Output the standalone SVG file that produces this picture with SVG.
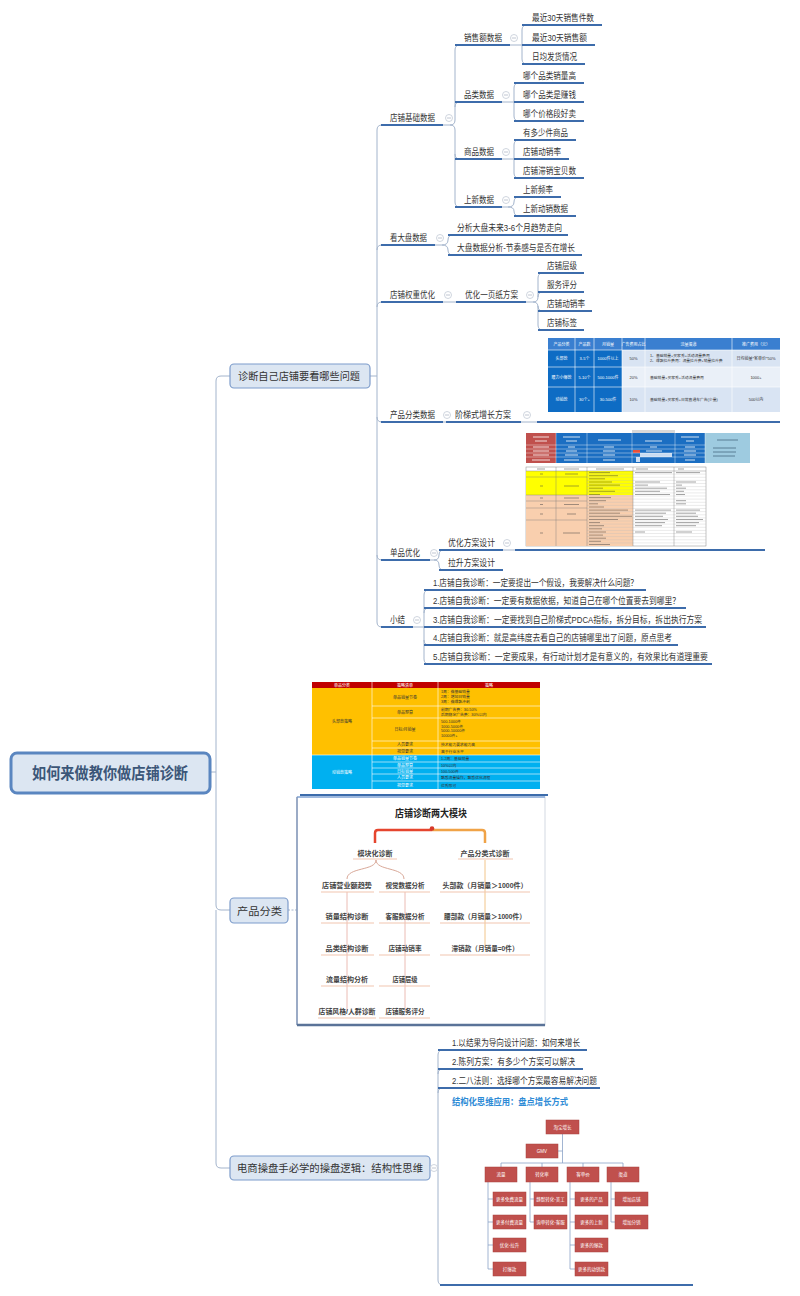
<svg xmlns="http://www.w3.org/2000/svg" width="800" height="1296" viewBox="0 0 800 1296">
<defs>
<style>
.t{font-family:"Liberation Sans","Noto Sans CJK SC",sans-serif;font-size:9px;fill:#333}
.b{font-family:"Liberation Sans","Noto Sans CJK SC",sans-serif;font-size:10.5px;fill:#333}
.ul{stroke:#3d6cab;stroke-width:2;fill:none}
.cn{stroke:#a3b4cc;stroke-width:1;fill:none}
.ci{fill:#fff;stroke:#c3cad6;stroke-width:0.8}
.cm{stroke:#b0b8c6;stroke-width:0.8}
.box{fill:#dce6f2;stroke:#7d9ccb;stroke-width:1.2}
.tw{font-family:"Liberation Sans","Noto Sans CJK SC",sans-serif;font-size:4px;fill:#fff;text-anchor:middle}
.td{font-family:"Liberation Sans","Noto Sans CJK SC",sans-serif;font-size:4px;fill:#333;text-anchor:middle}
.tl{font-family:"Liberation Sans","Noto Sans CJK SC",sans-serif;font-size:3.8px;fill:#333}
.ob{fill:#c0504d;stroke:#a8423f;stroke-width:0.5}
.ot{font-family:"Liberation Sans","Noto Sans CJK SC",sans-serif;font-size:4.5px;fill:#fff;text-anchor:middle}
.oc{stroke:#8aa2c6;stroke-width:0.8;fill:none}
.mt{font-family:"Liberation Sans","Noto Sans CJK SC",sans-serif;font-size:7px;font-weight:bold;fill:#444;text-anchor:middle}
.mu{stroke:#f2c6b0;stroke-width:1.2;fill:none}
.wl{stroke:#fff;stroke-width:0.6;fill:none}
</style>
<g id="col"><circle class="ci" r="3.5"/><line class="cm" x1="-2" y1="0" x2="2" y2="0"/></g>
</defs>
<rect x="0" y="0" width="800" height="1296" fill="#fff"/>

<g id="connectors">
<path class="cn" d="M 210 772 H 216 M 216 772 V 381 Q 216 376 221 376 H 230 M 216 772 V 905 Q 216 910 221 910 H 230 M 216 910 V 1163 Q 216 1168 221 1168 H 230"/>
<path class="cn" d="M 370 376 H 377 M 377 376 V 130 Q 377 125 382 125 M 377 250 Q 377 245 382 245 M 377 307 Q 377 302 382 302 M 377 376 V 622 Q 377 627 382 627 M 377 417 Q 377 422 382 422 M 377 555 Q 377 560 382 560"/>
<path class="cn" d="M 443 125 H 450 Q 455 125 455 120 V 50 Q 455 45 460 45 M 455 107 Q 455 102 460 102 M 450 125 Q 455 125 455 130 V 202 Q 455 207 460 207 M 455 154 Q 455 159 460 159"/>
<path class="cn" d="M 510 45 H 522 M 522 45 V 30 Q 522 25 527 25 M 522 45 V 59 Q 522 64 527 64"/>
<path class="cn" d="M 502 102 H 514 M 514 102 V 88 Q 514 83 519 83 M 514 102 V 116 Q 514 121 519 121"/>
<path class="cn" d="M 502 159 H 514 M 514 159 V 145 Q 514 140 519 140 M 514 159 V 173 Q 514 178 519 178"/>
<path class="cn" d="M 502 207 H 508 Q 514 207 514 202 Q 514 197 519 197 M 508 207 Q 514 207 514 211 Q 514 216 519 216"/>
<path class="cn" d="M 435 245 H 442 Q 448 245 448 240 Q 448 235 453 235 M 442 245 Q 448 245 448 250 Q 448 255 453 255"/>
<path class="cn" d="M 443 302 H 456"/>
<path class="cn" d="M 526 302 H 533 Q 538 302 538 297 V 278 Q 538 273 543 273 M 538 297 Q 538 292 543 292 M 533 302 Q 538 302 538 307 V 325 Q 538 330 543 330 M 538 306 Q 538 311 543 311"/>
<path class="cn" d="M 443 422 H 446 M 521 422 H 537"/>
<path class="cn" d="M 430 560 H 434 Q 439 560 439 555 Q 439 550 444 550 M 434 560 Q 439 560 439 565 Q 439 570 444 570 M 503 550 H 515"/>
<path class="cn" d="M 413 627 H 424 M 424 627 V 595 Q 424 590 429 590 M 424 613 Q 424 608 429 608 M 424 627 V 659 Q 424 664 429 664 M 424 640 Q 424 645 429 645"/>
<path class="cn" d="M 288 910 H 297" stroke-dasharray="2 1.5"/>
<path class="cn" d="M 430 1168 H 438 M 438 1168 V 1055 Q 438 1050 443 1050 M 438 1074 Q 438 1069 443 1069 M 438 1093 Q 438 1088 443 1088 M 438 1168 V 1280 Q 438 1285 443 1285"/>
</g>

<g id="underlines">
<path class="ul" d="M 381 125 H 443 M 381 245 H 435 M 381 302 H 443 M 381 422 H 443 M 381 560 H 430 M 381 627 H 413"/>
<path class="ul" d="M 455 45 H 510 M 455 102 H 502 M 455 159 H 502 M 455 207 H 502"/>
<path class="ul" d="M 522 25 H 602 M 522 45 H 595 M 522 64 H 585"/>
<path class="ul" d="M 514 83 H 584 M 514 102 H 584 M 514 121 H 584 M 514 140 H 576 M 514 159 H 569 M 514 178 H 584 M 514 197 H 561 M 514 216 H 576"/>
<path class="ul" d="M 448 235 H 568 M 448 255 H 582 M 456 302 H 526 M 538 273 H 584 M 538 292 H 584 M 538 311 H 592 M 538 330 H 584"/>
<path class="ul" d="M 446 422 H 521 M 537 422 H 780 M 439 550 H 503 M 439 570 H 503 M 515 550 H 765"/>
<path class="ul" d="M 424 590 H 646 M 424 608 H 686 M 424 627 H 706 M 424 645 H 678 M 424 664 H 712"/>
<path class="ul" d="M 300 795 H 548 M 438 1050 H 587 M 438 1069 H 583 M 438 1088 H 600 M 440 1285 H 693"/>
</g>

<g id="root">
<rect x="11" y="753" width="199" height="40" rx="6" fill="#dce6f2" stroke="#5a86c0" stroke-width="3"/>
<text x="32" y="778.5" font-family="Liberation Sans,Noto Sans CJK SC,sans-serif" font-size="15.5" font-weight="bold" fill="#3b5678" textLength="156" lengthAdjust="spacingAndGlyphs">如何来做教你做店铺诊断</text>
</g>

<g id="n-diagnose">
<rect class="box" x="230" y="364" width="140" height="24" rx="4"/>
<text class="b" x="238" y="380" textLength="122" lengthAdjust="spacingAndGlyphs">诊断自己店铺要看哪些问题</text>
</g>
<g id="n-product">
<rect class="box" x="230" y="898" width="58" height="25" rx="4"/>
<text class="b" x="237" y="914.5" font-size="11" textLength="45" lengthAdjust="spacingAndGlyphs">产品分类</text>
</g>
<g id="n-logic">
<rect class="box" x="230" y="1156" width="200" height="24" rx="4"/>
<text class="b" x="237" y="1172" textLength="186" lengthAdjust="spacingAndGlyphs">电商操盘手必学的操盘逻辑：结构性思维</text>
</g>

<g id="n-basic"><text class="t" x="390" y="121.2" textLength="45" lengthAdjust="spacingAndGlyphs">店铺基础数据</text><use href="#col" x="449" y="118"/></g>
<g id="n-sales"><text class="t" x="464" y="41.2" textLength="38" lengthAdjust="spacingAndGlyphs">销售额数据</text><use href="#col" x="514" y="38"/></g>
<g id="n-s1"><text class="t" x="532" y="21.2" textLength="62" lengthAdjust="spacingAndGlyphs">最近30天销售件数</text></g>
<g id="n-s2"><text class="t" x="532" y="41.2" textLength="55" lengthAdjust="spacingAndGlyphs">最近30天销售额</text></g>
<g id="n-s3"><text class="t" x="532" y="60.2" textLength="45" lengthAdjust="spacingAndGlyphs">日均发货情况</text></g>
<g id="n-cat"><text class="t" x="464" y="98.2" textLength="30" lengthAdjust="spacingAndGlyphs">品类数据</text><use href="#col" x="506" y="95"/></g>
<g id="n-c1"><text class="t" x="523" y="79.2" textLength="53" lengthAdjust="spacingAndGlyphs">哪个品类销量高</text></g>
<g id="n-c2"><text class="t" x="523" y="98.2" textLength="53" lengthAdjust="spacingAndGlyphs">哪个品类是赚钱</text></g>
<g id="n-c3"><text class="t" x="523" y="117.2" textLength="53" lengthAdjust="spacingAndGlyphs">哪个价格段好卖</text></g>
<g id="n-goods"><text class="t" x="464" y="155.2" textLength="30" lengthAdjust="spacingAndGlyphs">商品数据</text><use href="#col" x="506" y="152"/></g>
<g id="n-g1"><text class="t" x="523" y="136.2" textLength="45" lengthAdjust="spacingAndGlyphs">有多少件商品</text></g>
<g id="n-g2"><text class="t" x="523" y="155.2" textLength="38" lengthAdjust="spacingAndGlyphs">店铺动销率</text></g>
<g id="n-g3"><text class="t" x="523" y="174.2" textLength="53" lengthAdjust="spacingAndGlyphs">店铺滞销宝贝数</text></g>
<g id="n-new"><text class="t" x="464" y="203.2" textLength="30" lengthAdjust="spacingAndGlyphs">上新数据</text><use href="#col" x="506" y="200"/></g>
<g id="n-n1"><text class="t" x="523" y="193.2" textLength="30" lengthAdjust="spacingAndGlyphs">上新频率</text></g>
<g id="n-n2"><text class="t" x="523" y="212.2" textLength="45" lengthAdjust="spacingAndGlyphs">上新动销数据</text></g>

<g id="n-market"><text class="t" x="390" y="241.2" textLength="37" lengthAdjust="spacingAndGlyphs">看大盘数据</text><use href="#col" x="440" y="238"/></g>
<g id="n-m1"><text class="t" x="457" y="231.2" textLength="105" lengthAdjust="spacingAndGlyphs">分析大盘未来3-6个月趋势走向</text></g>
<g id="n-m2"><text class="t" x="457" y="251.2" textLength="118" lengthAdjust="spacingAndGlyphs">大盘数据分析-节奏感与是否在增长</text></g>

<g id="n-weight"><text class="t" x="390" y="298.2" textLength="45" lengthAdjust="spacingAndGlyphs">店铺权重优化</text><use href="#col" x="448" y="295"/></g>
<g id="n-onepage"><text class="t" x="465" y="298.2" textLength="53" lengthAdjust="spacingAndGlyphs">优化一页纸方案</text><use href="#col" x="530" y="295"/></g>
<g id="n-w1"><text class="t" x="547" y="269.2" textLength="30" lengthAdjust="spacingAndGlyphs">店铺层级</text></g>
<g id="n-w2"><text class="t" x="547" y="288.2" textLength="30" lengthAdjust="spacingAndGlyphs">服务评分</text></g>
<g id="n-w3"><text class="t" x="547" y="307.2" textLength="38" lengthAdjust="spacingAndGlyphs">店铺动销率</text></g>
<g id="n-w4"><text class="t" x="547" y="326.2" textLength="30" lengthAdjust="spacingAndGlyphs">店铺标签</text></g>

<g id="n-pcat"><text class="t" x="390" y="418.2" textLength="45" lengthAdjust="spacingAndGlyphs">产品分类数据</text><use href="#col" x="447" y="415"/></g>
<g id="n-ladder"><text class="t" x="455" y="418.2" textLength="56" lengthAdjust="spacingAndGlyphs">阶梯式增长方案</text><use href="#col" x="527" y="415"/></g>

<g id="table1">
<rect x="548" y="338" width="232" height="12" fill="#3a7fd0"/>
<rect x="548" y="350" width="74" height="62" fill="#0e6cc4"/>
<rect x="622" y="350" width="158" height="17" fill="#d9e4f3"/>
<rect x="622" y="367" width="158" height="20" fill="#eaf0f8"/>
<rect x="622" y="387" width="158" height="25" fill="#d9e4f3"/>
<path class="wl" d="M 575 338 V 412 M 594 338 V 412 M 622 338 V 412 M 645 338 V 412 M 732 338 V 412 M 548 350 H 780 M 548 367 H 780 M 548 387 H 780"/>
<text class="tw" x="561.5" y="345.5">产品分类</text><text class="tw" x="584.5" y="345.5">产品数</text><text class="tw" x="608" y="345.5">月销量</text><text class="tw" x="633.5" y="345.5">广告费用占比</text><text class="tw" x="688.5" y="345.5">流量渠道</text><text class="tw" x="756" y="345.5">推广费用（元）</text>
<text class="tw" x="561.5" y="360">头部款</text><text class="tw" x="584.5" y="360">3-5个</text><text class="tw" x="608" y="360">1000件以上</text><text class="td" x="633.5" y="360">50%</text>
<text class="tl" x="650" y="357">1、基础销量+买家秀+活动流量费用</text><text class="tl" x="650" y="362">2、爆款拉升费用：流量拉升费+销量拉升费</text><text class="td" x="756" y="360">日均销量*客单价*50%</text>
<text class="tw" x="561.5" y="378.5">腰力小爆款</text><text class="tw" x="584.5" y="378.5">5-10个</text><text class="tw" x="608" y="378.5">500-1000件</text><text class="td" x="633.5" y="378.5">20%</text>
<text class="tl" x="650" y="378.5">基础销量+买家秀+活动流量费用</text><text class="td" x="756" y="378.5">1000+</text>
<text class="tw" x="561.5" y="401">动销款</text><text class="tw" x="584.5" y="401">30个+</text><text class="tw" x="608" y="401">30-500件</text><text class="td" x="633.5" y="401">10%</text>
<text class="tl" x="650" y="401">基础销量+买家秀+日常直通车广告(少量)</text><text class="td" x="756" y="401">500以内</text>
</g>

<g id="n-single"><text class="t" x="390" y="556.2" textLength="30" lengthAdjust="spacingAndGlyphs">单品优化</text><use href="#col" x="434" y="553"/></g>
<g id="n-opt"><text class="t" x="448" y="546.2" textLength="47" lengthAdjust="spacingAndGlyphs">优化方案设计</text><use href="#col" x="507" y="543"/></g>
<g id="n-lift"><text class="t" x="448" y="566.2" textLength="47" lengthAdjust="spacingAndGlyphs">拉升方案设计</text></g>

<g id="table2">
<rect x="632" y="430" width="43" height="3" fill="#d8d8d8"/>
<rect x="526" y="433" width="30" height="30" fill="#c0504d"/>
<rect x="556" y="433" width="149" height="30" fill="#1b6ec2"/>
<rect x="705" y="433" width="45" height="30" fill="#9ecbe0"/>
<rect x="633" y="450" width="7" height="3" fill="#e8503a"/>
<rect x="640" y="453" width="32" height="4" fill="#c9dcf2"/>
<rect x="636" y="457" width="4" height="5" fill="#c9dcf2"/>
<path stroke="#fff" stroke-width="0.4" fill="none" d="M 526 445 H 705 M 526 449 H 705 M 526 453 H 705 M 526 457 H 705 M 556 433 V 463 M 587 433 V 463 M 632 433 V 463 M 675 433 V 463 M 705 433 V 463"/>
<path stroke="#fff" stroke-width="1" opacity="0.8" fill="none" d="M 533 437 H 549 M 535 441 H 547 M 563 437 H 580 M 566 441 H 577 M 598 440 H 621 M 645 441 H 662 M 681 437 H 699 M 686 441 H 694 M 533 447 H 549 M 533 451 H 549 M 533 455 H 549 M 532 460 H 550 M 568 447 H 575 M 566 451 H 577 M 565 455 H 578 M 564 460 H 579 M 604 447 H 614 M 603 451 H 615 M 603 455 H 615 M 603 460 H 615 M 650 447 H 657 M 646 451 H 662 M 685 447 H 695 M 684 451 H 696 M 684 455 H 696 M 685 460 H 695"/>
<path stroke="#2d4f66" stroke-width="1" opacity="0.6" fill="none" d="M 717 440 H 738 M 713 448 H 736 M 713 452 H 736 M 713 456 H 735"/>
<rect x="526" y="467" width="180" height="79" fill="#fff" stroke="#888" stroke-width="0.5"/>
<rect x="526" y="471" width="107" height="24" fill="#ffff00"/>
<rect x="526" y="495" width="107" height="51" fill="#f9cfae"/>
<path stroke="#bbb" stroke-width="0.3" fill="none" d="M 587 474.1 H 706 M 587 477.3 H 706 M 587 480.4 H 706 M 587 483.5 H 706 M 587 486.6 H 706 M 587 489.8 H 706 M 587 492.9 H 706 M 587 496 H 706 M 587 499.1 H 706 M 587 502.3 H 706 M 587 505.4 H 706 M 587 508.5 H 706 M 587 511.6 H 706 M 587 514.8 H 706 M 587 517.9 H 706 M 587 521 H 706 M 587 524.1 H 706 M 587 527.3 H 706 M 587 530.4 H 706 M 587 533.5 H 706 M 587 536.6 H 706 M 587 539.8 H 706 M 587 542.9 H 706"/>
<path stroke="#777" stroke-width="0.4" fill="none" d="M 526 471 H 706 M 556 467 V 546 M 587 467 V 546 M 633 467 V 546 M 674 467 V 546 M 526 477 H 587 M 526 495 H 587 M 526 501 H 587 M 526 508 H 587 M 526 520 H 587"/>
<path stroke="#444" stroke-width="0.9" opacity="0.55" fill="none" d="M 537 469 H 545 M 564 469 H 579 M 596 469 H 624 M 636 469 H 648 M 678 469 H 684 M 540 474 H 543 M 565 474 H 578 M 540 486 H 543 M 564 486 H 579 M 540 498 H 543 M 564 498 H 579 M 540 504.5 H 543 M 564 504.5 H 579 M 540 514 H 543 M 567 514 H 576 M 540 533 H 543 M 563 533 H 580 M 589 472.6 H 610 M 589 475.7 H 618 M 589 478.8 H 605 M 589 482 H 612 M 589 485.1 H 620 M 589 488.2 H 603 M 589 491.3 H 615 M 589 494.5 H 600 M 589 497.6 H 611 M 589 500.7 H 606 M 589 503.8 H 598 M 589 507 H 604 M 589 510.1 H 628 M 589 513.2 H 620 M 589 516.3 H 632 M 589 519.5 H 618 M 589 522.6 H 600 M 589 525.7 H 604 M 589 528.8 H 602 M 589 532 H 606 M 589 535.1 H 603 M 589 538.2 H 606 M 589 541.3 H 601 M 589 544.5 H 610 M 635 472.6 H 672 M 676 472.6 H 700 M 635 482 H 660 M 676 482 H 696 M 635 485.1 H 648 M 676 485.1 H 682 M 635 488.2 H 667 M 676 488.2 H 686 M 635 491.3 H 660 M 676 491.3 H 684 M 635 494.5 H 670 M 676 494.5 H 685 M 676 500.7 H 686 M 676 503.8 H 686 M 635 510.1 H 671 M 676 510.1 H 700 M 635 513.2 H 666 M 676 513.2 H 696 M 635 516.3 H 663 M 676 516.3 H 698 M 635 519.5 H 668 M 676 519.5 H 703 M 635 522.6 H 665 M 676 522.6 H 699 M 635 525.7 H 662 M 676 525.7 H 696 M 635 532 H 645 M 676 532 H 692"/>
</g>

<g id="n-summary"><text class="t" x="390" y="623.2" textLength="15" lengthAdjust="spacingAndGlyphs">小结</text><use href="#col" x="417" y="620"/></g>
<g id="n-sum1"><text class="t" x="433" y="586.2" textLength="205" lengthAdjust="spacingAndGlyphs">1.店铺自我诊断：一定要提出一个假设，我要解决什么问题？</text></g>
<g id="n-sum2"><text class="t" x="433" y="604.2" textLength="247" lengthAdjust="spacingAndGlyphs">2.店铺自我诊断：一定要有数据依据，知道自己在哪个位置要去到哪里？</text></g>
<g id="n-sum3"><text class="t" x="433" y="623.2" textLength="269" lengthAdjust="spacingAndGlyphs">3.店铺自我诊断：一定要找到自己阶梯式PDCA指标，拆分目标，拆出执行方案</text></g>
<g id="n-sum4"><text class="t" x="433" y="641.2" textLength="239" lengthAdjust="spacingAndGlyphs">4.店铺自我诊断：就是高纬度去看自己的店铺哪里出了问题，原点思考</text></g>
<g id="n-sum5"><text class="t" x="433" y="660.2" textLength="275" lengthAdjust="spacingAndGlyphs">5.店铺自我诊断：一定要成果，有行动计划才是有意义的，有效果比有道理重要</text></g>

<g id="table3">
<rect x="312" y="682" width="228" height="6" fill="#c00000"/>
<rect x="312" y="688" width="228" height="67" fill="#ffc000"/>
<rect x="312" y="755" width="228" height="34" fill="#00b0f0"/>
<path class="wl" d="M 372 682 V 789 M 438 682 V 789 M 372 706 H 540 M 372 718 H 540 M 372 741 H 540 M 372 748 H 540 M 312 755 H 540 M 372 762 H 540 M 372 768 H 540 M 372 774 H 540 M 372 781 H 540"/>
<text class="tw" x="342" y="686.5" font-size="3.6">单品分类</text><text class="tw" x="405" y="686.5" font-size="3.6">策略清单</text><text class="tw" x="489" y="686.5" font-size="3.6">策略</text>
<text class="td" x="342" y="723">头部款策略</text>
<text class="td" x="405" y="698.5">单品销量节奏</text><text class="td" x="405" y="713.5">单品预算</text><text class="td" x="405" y="731">日标/月销量</text><text class="td" x="405" y="746">人员要求</text><text class="td" x="405" y="753">视觉要求</text>
<text class="tl" x="441" y="693">1周：做基础销量</text><text class="tl" x="441" y="698">2周：增加日销量</text><text class="tl" x="441" y="703">3周：做爆款冲刺</text>
<text class="tl" x="441" y="711">前期广告费：30-50%</text><text class="tl" x="441" y="715.5">后期稳定广告费：30%以内</text>
<text class="tl" x="441" y="723">500-1000件</text><text class="tl" x="441" y="727.5">1000-5000件</text><text class="tl" x="441" y="732">5000-10000件</text><text class="tl" x="441" y="736.5">10000件+</text>
<text class="tl" x="441" y="746">技术能力要求能力高</text><text class="tl" x="441" y="753">高于行业水平</text>
<text class="tw" x="342" y="774">动销款策略</text>
<text class="tw" x="405" y="760">单品销量节奏</text><text class="tw" x="405" y="766.5">单品预算</text><text class="tw" x="405" y="772.5">日标销量</text><text class="tw" x="405" y="779">人员要求</text><text class="tw" x="405" y="786.5">视觉要求</text>
<text class="tl" x="441" y="760" fill="#fff">1-2周：基础销量</text><text class="tl" x="441" y="766.5" fill="#fff">10%以内</text><text class="tl" x="441" y="772.5" fill="#fff">100-500件</text><text class="tl" x="441" y="779" fill="#fff">熟悉流量操作，熟悉优化流程</text><text class="tl" x="441" y="786.5" fill="#fff">优秀即可</text>
</g>

<g id="modules">
<rect x="297" y="797" width="248" height="228" fill="#fff" stroke="#d3d9e2" stroke-width="1"/>
<path d="M 297 797 H 545" stroke="#86a8d8" stroke-width="1.5" fill="none"/>
<path d="M 297 797 V 1025" stroke="#8096b8" stroke-width="1.5" fill="none"/>
<path d="M 297 1025 H 545" stroke="#5a7398" stroke-width="2.5" fill="none"/>
<text x="431" y="817" text-anchor="middle" font-family="Liberation Sans,Noto Sans CJK SC,sans-serif" font-size="10" font-weight="bold" fill="#222" textLength="72" lengthAdjust="spacingAndGlyphs">店铺诊断两大模块</text>
<path d="M 375 843 V 833 Q 375 830 378 830 H 432" stroke="#e5452e" stroke-width="2.5" fill="none"/>
<path d="M 432 830 H 482 Q 485 830 485 833 V 843" stroke="#f0a347" stroke-width="2.5" fill="none"/>
<circle cx="432" cy="828.5" r="2.3" fill="#d63a2a"/>
<text class="mt" x="375" y="855.5" font-size="6" font-weight="normal">模块化诊断</text>
<text class="mt" x="485" y="855.5" font-size="6" font-weight="normal">产品分类式诊断</text>
<path class="mu" d="M 353 859 H 397 M 458 859 H 513"/>
<path d="M 376 860 C 376 871 347 867 347 879 M 376 860 C 376 871 404 867 404 879" stroke="#d9a898" stroke-width="1" fill="none"/>
<path d="M 347 892 V 1011 M 405 892 V 1011" stroke="#ebbcb4" stroke-width="1" fill="none"/>
<path d="M 485 860 V 948" stroke="#f2c58a" stroke-width="1" fill="none"/>
<path class="mu" d="M 321 892 H 374 M 379 892 H 430 M 440 892 H 530 M 321 923 H 374 M 379 923 H 430 M 440 923 H 530 M 321 955 H 374 M 379 955 H 430 M 440 955 H 530 M 321 986 H 374 M 379 986 H 430 M 318 1018 H 376 M 379 1018 H 430"/>
<text class="mt" x="347" y="888" textLength="50" lengthAdjust="spacingAndGlyphs">店铺营业额趋势</text>
<text class="mt" x="347" y="919" textLength="43" lengthAdjust="spacingAndGlyphs">销量结构诊断</text>
<text class="mt" x="347" y="951" textLength="43" lengthAdjust="spacingAndGlyphs">品类结构诊断</text>
<text class="mt" x="347" y="982" textLength="42" lengthAdjust="spacingAndGlyphs">流量结构分析</text>
<text class="mt" x="347" y="1014" textLength="57" lengthAdjust="spacingAndGlyphs">店铺风格/人群诊断</text>
<text class="mt" x="405" y="888" textLength="39" lengthAdjust="spacingAndGlyphs">视觉数据分析</text>
<text class="mt" x="405" y="919" textLength="39" lengthAdjust="spacingAndGlyphs">客服数据分析</text>
<text class="mt" x="405" y="951" textLength="33" lengthAdjust="spacingAndGlyphs">店铺动销率</text>
<text class="mt" x="405" y="982" textLength="25" lengthAdjust="spacingAndGlyphs">店铺层级</text>
<text class="mt" x="405" y="1014" textLength="39" lengthAdjust="spacingAndGlyphs">店铺服务评分</text>
<text class="mt" x="485" y="888" textLength="85" lengthAdjust="spacingAndGlyphs">头部款（月销量＞1000件）</text>
<text class="mt" x="485" y="919" textLength="82" lengthAdjust="spacingAndGlyphs">腰部款（月销量＞1000件）</text>
<text class="mt" x="485" y="951" textLength="67" lengthAdjust="spacingAndGlyphs">滞销款（月销量=0件）</text>
</g>

<g id="n-l1"><text class="t" x="452" y="1046.2" textLength="128" lengthAdjust="spacingAndGlyphs">1.以结果为导向设计问题：如何来增长</text></g>
<g id="n-l2"><text class="t" x="452" y="1065.2" textLength="123" lengthAdjust="spacingAndGlyphs">2.陈列方案：有多少个方案可以解决</text></g>
<g id="n-l3"><text class="t" x="452" y="1084.2" textLength="145" lengthAdjust="spacingAndGlyphs">2.二八法则：选择哪个方案最容易解决问题</text></g>
<use href="#col" x="434" y="1168"/>

<g id="growth">
<text x="452" y="1104.5" font-family="Liberation Sans,Noto Sans CJK SC,sans-serif" font-size="9.5" font-weight="bold" fill="#2e8bd6" textLength="116" lengthAdjust="spacingAndGlyphs">结构化思维应用：盘点增长方式</text>
<path class="oc" d="M 562.5 1134 V 1163 M 558 1151 H 562.5 M 501 1163 H 623 M 501 1163 V 1167 M 542 1163 V 1167 M 583 1163 V 1167 M 623 1163 V 1167"/>
<path class="oc" d="M 488 1182 V 1269 H 493 M 488 1199 H 493 M 488 1222 H 493 M 488 1245 H 493 M 530 1182 V 1222 H 534 M 530 1199 H 534 M 570 1182 V 1269 H 575 M 570 1199 H 575 M 570 1222 H 575 M 570 1245 H 575 M 611 1182 V 1222 H 615 M 611 1199 H 615"/>
<rect class="ob" x="546" y="1120" width="33" height="14"/><text class="ot" x="562.5" y="1128.5">淘宝增长</text>
<rect class="ob" x="526" y="1144" width="32" height="14"/><text class="ot" x="542" y="1152.5">GMV</text>
<rect class="ob" x="485" y="1167" width="32" height="15"/><text class="ot" x="501" y="1176">流量</text>
<rect class="ob" x="526" y="1167" width="32" height="15"/><text class="ot" x="542" y="1176">转化率</text>
<rect class="ob" x="567" y="1167" width="32" height="15"/><text class="ot" x="583" y="1176">客单价</text>
<rect class="ob" x="607" y="1167" width="32" height="15"/><text class="ot" x="623" y="1176">渠道</text>
<rect class="ob" x="493" y="1192" width="33" height="14"/><text class="ot" x="509.5" y="1200.5">更多免费流量</text>
<rect class="ob" x="493" y="1215" width="33" height="14"/><text class="ot" x="509.5" y="1223.5">更多付费流量</text>
<rect class="ob" x="493" y="1238" width="33" height="14"/><text class="ot" x="509.5" y="1246.5">优化-拉升</text>
<rect class="ob" x="493" y="1262" width="33" height="14"/><text class="ot" x="509.5" y="1270.5">打爆款</text>
<rect class="ob" x="534" y="1192" width="33" height="14"/><text class="ot" x="550.5" y="1200.5">静默转化-美工</text>
<rect class="ob" x="534" y="1215" width="33" height="14"/><text class="ot" x="550.5" y="1223.5">询单转化-客服</text>
<rect class="ob" x="575" y="1192" width="33" height="14"/><text class="ot" x="591.5" y="1200.5">更多的产品</text>
<rect class="ob" x="575" y="1215" width="33" height="14"/><text class="ot" x="591.5" y="1223.5">更多的上新</text>
<rect class="ob" x="575" y="1238" width="33" height="14"/><text class="ot" x="591.5" y="1246.5">更多的爆款</text>
<rect class="ob" x="575" y="1262" width="33" height="14"/><text class="ot" x="591.5" y="1270.5">更多的动销款</text>
<rect class="ob" x="615" y="1192" width="33" height="14"/><text class="ot" x="631.5" y="1200.5">增加店铺</text>
<rect class="ob" x="615" y="1215" width="33" height="14"/><text class="ot" x="631.5" y="1223.5">增加分销</text>
</g>
</svg>
